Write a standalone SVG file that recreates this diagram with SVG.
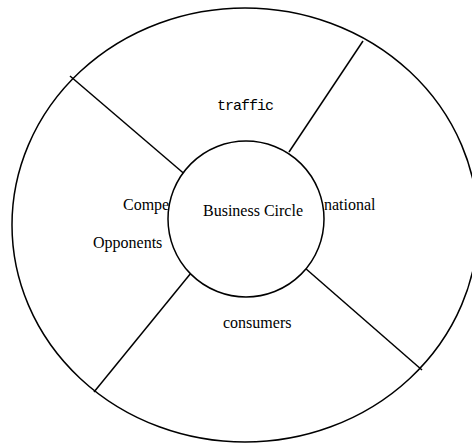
<svg xmlns="http://www.w3.org/2000/svg" width="472" height="444" viewBox="0 0 472 444">
<style>
.ln{stroke:#000;stroke-width:1.5;fill:none}
.sf{font-family:"Liberation Serif","Times New Roman",serif;font-size:16px;fill:#000}
.mo{font-family:"Liberation Mono","Courier New",monospace;font-size:15px;letter-spacing:-1px;fill:#000}
</style>
<rect width="472" height="444" fill="#fff"/>
<g id="outer"><ellipse class="ln" cx="245" cy="225" rx="233" ry="217"/></g>
<g id="connectors">
<line class="ln" x1="70" y1="76" x2="188" y2="177"/>
<line class="ln" x1="363" y1="41" x2="289" y2="152"/>
<line class="ln" x1="94" y1="392" x2="191" y2="273"/>
<line class="ln" x1="305" y1="268" x2="422" y2="370"/>
</g>
<g id="labels">
<text class="mo" x="217" y="110">traffic</text>
<text class="sf" x="123" y="210">Compe</text>
<text class="sf" x="324" y="210">national</text>
<text class="sf" x="93" y="248">Opponents</text>
<text class="sf" x="223" y="328">consumers</text>
</g>
<g id="center"><circle class="ln" cx="246" cy="219" r="78" style="fill:#fff"/>
<text class="sf" x="253" y="216" text-anchor="middle">Business Circle</text></g>
</svg>
